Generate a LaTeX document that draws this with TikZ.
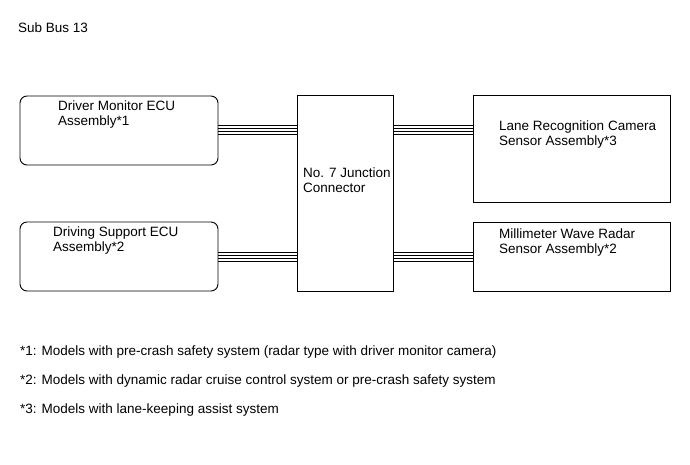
\documentclass[tikz,border=0pt]{standalone}
\usepackage{fontspec}
\setmainfont{Liberation Sans}
\usepackage{tikz}
\usetikzlibrary{positioning, calc}

\tikzset{
  ecubox/.style={draw, line width=0.9pt, rounded corners=7pt, inner sep=0pt},
  unitbox/.style={draw, line width=0.9pt, inner sep=0pt},
  boxtext/.style={anchor=west, align=left, inner sep=0pt, font=\fontsize{13.5}{15}\selectfont},
  note/.style={anchor=west, inner sep=0pt, font=\fontsize{13.5}{15}\selectfont},
  wire/.style={line width=1pt}
}

\begin{document}
\begin{tikzpicture}[x=1pt, y=-1pt]
    \useasboundingbox (0,0) rectangle (690,465);

    % Title
    \node[note] (title) at (18,28) {Sub Bus 13};

    % ECUs on the left
    \node[ecubox, minimum width=198pt, minimum height=69pt] (dm) at (119,130.5) {};
    \node[ecubox, minimum width=198pt, minimum height=69pt] (ds) at (119,256.5) {};

    % Junction connector
    \node[unitbox, minimum width=96pt, minimum height=196pt] (jc) at (345,193) {};

    % Sensors on the right
    \node[unitbox, minimum width=197pt, minimum height=107pt] (lr) at (571.5,148.5) {};
    \node[unitbox, minimum width=197pt, minimum height=69pt] (mw) at (571.5,256.5) {};

    % Texts in the boxes
    \node[boxtext] (dmtext) at (58,114.5) {Driver Monitor ECU\\Assembly*1};
    \node[boxtext] (dstext) at (53,240.5) {Driving Support ECU\\Assembly*2};
    \node[boxtext] (jctext) at (303,180.5) {No. 7 Junction\\Connector};
    \node[boxtext] (lrtext) at (499,135) {Lane Recognition Camera\\Sensor Assembly*3};
    \node[boxtext] (mwtext) at (499,242.5) {Millimeter Wave Radar\\Sensor Assembly*2};

    % Wires (4 lines each)
    \foreach \dy in {-4.5,-1.5,1.5,4.5} {
        \draw[wire] ([yshift=\dy]dm.east) -- ([yshift=\dy]jc.west |- dm.east);
        \draw[wire] ([yshift=\dy]ds.east) -- ([yshift=\dy]jc.west |- ds.east);
        \draw[wire] ([yshift=\dy]jc.east |- dm.east) -- ([yshift=\dy]lr.west |- dm.east);
        \draw[wire] ([yshift=\dy]jc.east |- ds.east) -- ([yshift=\dy]mw.west);
    }

    % Notes
    \node[note] (n1) at (20,352) {*1: Models with pre-crash safety system (radar type with driver monitor camera)};
    \node[note] (n2) at (20,381) {*2: Models with dynamic radar cruise control system or pre-crash safety system};
    \node[note] (n3) at (20,410) {*3: Models with lane-keeping assist system};
\end{tikzpicture}
\end{document}
